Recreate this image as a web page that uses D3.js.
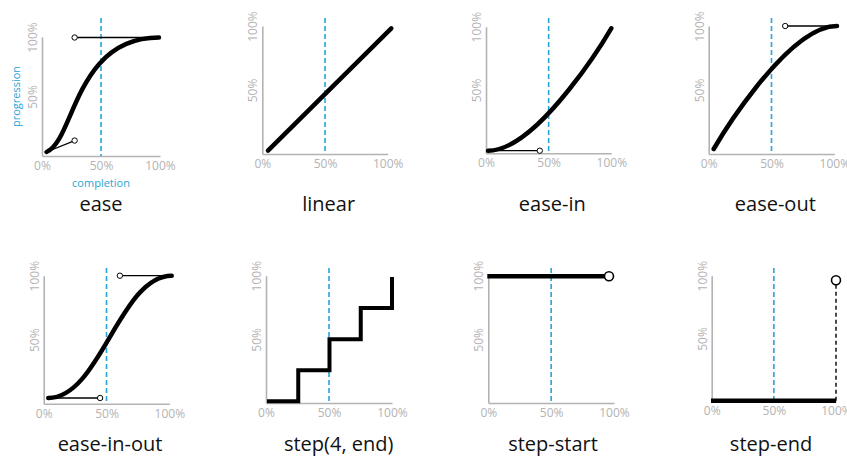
<!DOCTYPE html>
<html>
<head>
<meta charset="utf-8">
<script src="https://d3js.org/d3.v7.min.js"></script>
<style>
  body { margin: 0; background: #fff; }
  svg { display: block; }
</style>
</head>
<body>
<svg id="chart" width="847" height="456"></svg>
<script>
// timing functions shown in the grid
var panelNames = ["ease", "linear", "ease-in", "ease-out", "ease-in-out", "step(4, end)", "step-start", "step-end"]
var panelKinds = ["bezier", "bezier", "bezier", "bezier", "bezier", "steps", "start", "end"]
// cubic-bezier control points x1, y1, x2, y2
var bezierPoints = [[0.25, 0.1, 0.25, 1], [0, 0, 1, 1], [0.42, 0, 1, 1], [0, 0, 0.58, 1], [0.42, 0, 0.58, 1], null, null, null]
// step(4, end)
var stepX = [0, 0.25, 0.5, 0.75, 1]
var stepY = [0, 0.25, 0.5, 0.75, 1]
var xTickValues = [0, 0.5, 1]
var xTickLabels = ["0%", "50%", "100%"]
var yTickValues = [0.5, 1]
var yTickLabels = ["50%", "100%"]
var midCompletion = 0.5

// where each small chart sits on the page (frame = axes, plot = curve)
var layout = [
    {fx: [42, 160], fy: [156, 37], px: [46.5, 159], py: [152, 37.5], dashTop: 18, titleX: 101, titleY: 211},
    {fx: [262.3, 387.7], fy: [154, 26], px: [268, 391.3], py: [150.7, 28.3], dashTop: 18, titleX: 328.7, titleY: 211},
    {fx: [486, 611.3], fy: [153.3, 26.7], px: [488, 611.3], py: [150.7, 28.3], dashTop: 18, titleX: 552.3, titleY: 211},
    {fx: [708.7, 834.3], fy: [154, 26], px: [713.7, 837], py: [149, 26], dashTop: 18, titleX: 775.3, titleY: 211},
    {fx: [43.7, 169.3], fy: [403.7, 275.7], px: [48.3, 171.7], py: [398, 275.7], dashTop: 268, titleX: 110, titleY: 451},
    {fx: [266, 392], fy: [403, 275.7], px: [267, 392], py: [401.3, 277], dashTop: 268, titleX: 338.7, titleY: 451},
    {fx: [488.3, 614], fy: [403, 275.7], px: [487.3, 609], py: [403, 276.3], dashTop: 268, titleX: 553, titleY: 451},
    {fx: [711.7, 836], fy: [401.3, 275.7], px: [711, 836], py: [400.7, 280.3], dashTop: 268, titleX: 771, titleY: 451}
]

var blue = "#27a4d5"
var grey = "#b3b3b3"
var font = "'Open Sans', 'Noto Sans', sans-serif"

var svg = d3.select("#chart")

panelNames.forEach(function (name, i) {
    var L = layout[i]
    var fx = d3.scaleLinear().domain([0, 1]).range(L.fx)
    var fy = d3.scaleLinear().domain([0, 1]).range(L.fy)
    var x = d3.scaleLinear().domain([0, 1]).range(L.px)
    var y = d3.scaleLinear().domain([0, 1]).range(L.py)
    var g = svg.append("g")

    // axes: plain lines with labels, no ticks
    var xAxis = g.append("g").attr("transform", "translate(0," + L.fy[0] + ")")
        .call(d3.axisBottom(fx).tickValues(xTickValues).tickSize(0).tickSizeOuter(0).tickPadding(5)
            .tickFormat(function (d, k) { return xTickLabels[k] }))
    var yAxis = g.append("g").attr("transform", "translate(" + L.fx[0] + ",0)")
        .call(d3.axisLeft(fy).tickValues(yTickValues).tickSize(0).tickSizeOuter(0)
            .tickFormat(function (d, k) { return yTickLabels[k] }))
    ;[xAxis, yAxis].forEach(function (a) {
        a.select(".domain").attr("stroke", grey).attr("stroke-width", 1.6)
        a.selectAll("text").attr("fill", grey).style("font-family", font).style("font-size", "12px")
    })
    xAxis.selectAll("text").attr("dy", "0.75em")
    yAxis.selectAll("text").attr("transform", "rotate(-90)")
        .attr("x", 0).attr("y", -5).attr("dy", 0).attr("text-anchor", "middle")

    // 50% completion marker
    g.append("line")
        .attr("x1", fx(midCompletion)).attr("x2", fx(midCompletion))
        .attr("y1", L.dashTop).attr("y2", L.fy[0])
        .attr("stroke", blue).attr("stroke-width", 1.6).attr("stroke-dasharray", "5,3")

    var kind = panelKinds[i]
    if (kind === "bezier") {
        var b = bezierPoints[i]
        // handles first so the curve sits on top
        var handles = []
        if (b[0] !== 0 || b[1] !== 0) handles.push([[0, 0], [b[0], b[1]]])
        if (b[2] !== 1 || b[3] !== 1) handles.push([[1, 1], [b[2], b[3]]])
        var p = d3.path()
        p.moveTo(x(0), y(0))
        p.bezierCurveTo(x(b[0]), y(b[1]), x(b[2]), y(b[3]), x(1), y(1))
        handles.forEach(function (h) {
            g.append("line")
                .attr("x1", x(h[0][0])).attr("y1", y(h[0][1]))
                .attr("x2", x(h[1][0])).attr("y2", y(h[1][1]))
                .attr("stroke", "#000").attr("stroke-width", 1.3)
        })
        g.append("path").attr("d", p.toString())
            .attr("fill", "none").attr("stroke", "#000").attr("stroke-width", 4.5)
            .attr("stroke-linecap", "round")
        handles.forEach(function (h) {
            g.append("circle")
                .attr("cx", x(h[1][0])).attr("cy", y(h[1][1])).attr("r", 2.7)
                .attr("fill", "#fff").attr("stroke", "#000").attr("stroke-width", 1)
        })
    } else if (kind === "steps") {
        var pts = stepX.map(function (v, k) { return [v, stepY[k]] })
        g.append("path").datum(pts)
            .attr("d", d3.line().x(function (d) { return x(d[0]) }).y(function (d) { return y(d[1]) })
                .curve(d3.curveStepAfter))
            .attr("fill", "none").attr("stroke", "#000").attr("stroke-width", 4)
    } else if (kind === "start") {
        g.append("line")
            .attr("x1", x(0)).attr("y1", y(1)).attr("x2", x(1)).attr("y2", y(1))
            .attr("stroke", "#000").attr("stroke-width", 4.5)
        g.append("circle").attr("cx", x(1)).attr("cy", y(1)).attr("r", 4.5)
            .attr("fill", "#fff").attr("stroke", "#000").attr("stroke-width", 1.6)
    } else if (kind === "end") {
        g.append("line")
            .attr("x1", x(1)).attr("y1", y(0)).attr("x2", x(1)).attr("y2", y(1))
            .attr("stroke", "#000").attr("stroke-width", 1.4).attr("stroke-dasharray", "4,3")
        g.append("line")
            .attr("x1", x(0)).attr("y1", y(0)).attr("x2", x(1)).attr("y2", y(0))
            .attr("stroke", "#000").attr("stroke-width", 4.5)
        g.append("circle").attr("cx", x(1)).attr("cy", y(1)).attr("r", 4.5)
            .attr("fill", "#fff").attr("stroke", "#000").attr("stroke-width", 1.6)
    }

    g.append("text")
        .attr("x", L.titleX).attr("y", L.titleY)
        .attr("text-anchor", "middle")
        .style("font-family", font).style("font-size", "20px").attr("fill", "#111")
        .text(name)

    if (i === 0) {
        g.append("text")
            .attr("transform", "translate(19.5," + (L.fy[0] + L.fy[1]) / 2 + ") rotate(-90)")
            .attr("text-anchor", "middle")
            .style("font-family", font).style("font-size", "11px").attr("fill", blue)
            .text("progression")
        g.append("text")
            .attr("x", fx(0.5)).attr("y", 187)
            .attr("text-anchor", "middle")
            .style("font-family", font).style("font-size", "11px").attr("fill", blue)
            .text("completion")
    }
})
</script>
</body>
</html>
